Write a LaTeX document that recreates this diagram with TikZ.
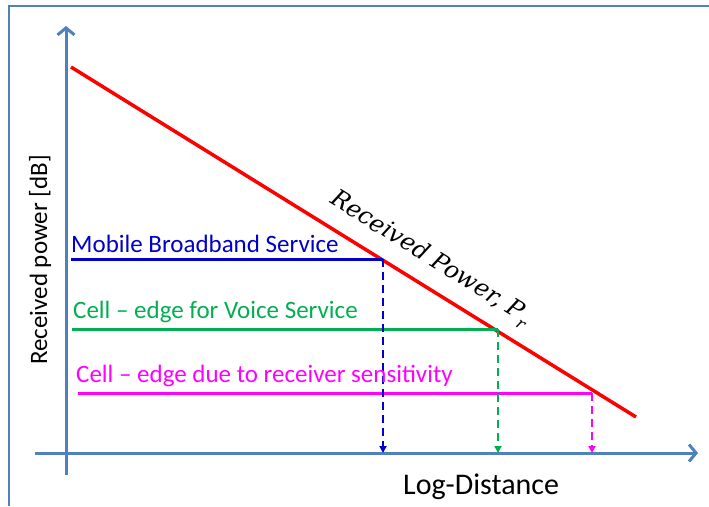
\documentclass[tikz,border=0pt]{standalone}
\usepackage{fontspec}
\setmainfont{Carlito}
\newfontfamily\curvelabelfont{DejaVu Serif}
\usetikzlibrary{arrows.meta}
\definecolor{axisblue}{RGB}{79,129,189}
\definecolor{bbblue}{RGB}{0,0,200}
\definecolor{voicegreen}{RGB}{0,176,80}
\definecolor{sensmag}{RGB}{255,0,255}
\begin{document}
\begin{tikzpicture}[x=1pt,y=-1pt,
  axisline/.style={draw=axisblue,line width=3pt,-{Straight Barb[length=7pt,width=17pt,line width=3pt]}},
  frameline/.style={draw=axisblue,line width=1.8pt},
  levelline/.style={line width=3pt},
  dropline/.style={line width=2.5pt,dash pattern=on 8pt off 5pt,-{Triangle[length=7pt,width=7pt]}},
  lbl/.style={anchor=base west,inner sep=0pt,font=\fontsize{25}{30}\selectfont}]
\useasboundingbox (0,0) rectangle (709,506);
% frame
\draw[frameline] (709,6) -- (9,6) -- (9,506);
% axes
\coordinate (yb) at (66,475);
\coordinate (yt) at (66,26);
\coordinate (xl) at (35,453);
\coordinate (xr) at (698,453);
\draw[axisline] (yb) -- (yt);
\draw[axisline] (xl) -- (xr);
% received power line
\coordinate (rs) at (71,67);
\coordinate (re) at (636,417);
\draw[red,line width=3.5pt] (rs) -- (re);
\node[rotate=-31.8,inner sep=0pt,font=\fontsize{24}{28}\selectfont] (prl) at (430,259)
  {\curvelabelfont\itshape Received Power, P\raisebox{-0.3em}{\fontsize{16}{18}\selectfont r}};
% service levels
\coordinate (b1) at (71,259);  \coordinate (b2) at (383,259);
\coordinate (g1) at (72,329);  \coordinate (g2) at (498,329);
\coordinate (m1) at (78,393);  \coordinate (m2) at (592,393);
\draw[levelline,bbblue] (b1) -- (b2);
\draw[levelline,voicegreen] (g1) -- (g2);
\draw[levelline,sensmag] (m1) -- (m2);
\draw[dropline,bbblue] (b2) -- (b2 |- xl);
\draw[dropline,voicegreen] (g2) -- (g2 |- xl);
\draw[dropline,sensmag] (m2) -- (m2 |- xl);
% labels
\node[lbl,text=bbblue] (bl) at (71,252) {Mobile Broadband Service};
\node[lbl,text=voicegreen] (gl) at (73,318) {Cell – edge for Voice Service};
\node[lbl,text=sensmag] (ml) at (76,382) {Cell – edge due to receiver sensitivity};
\node[lbl,font=\fontsize{30}{36}\selectfont] (xlab) at (403,494) {Log-Distance};
\node[inner sep=0pt,rotate=90,font=\fontsize{25}{30}\selectfont] (ylab) at (40,260) {Received power [dB]};
\end{tikzpicture}
\end{document}
